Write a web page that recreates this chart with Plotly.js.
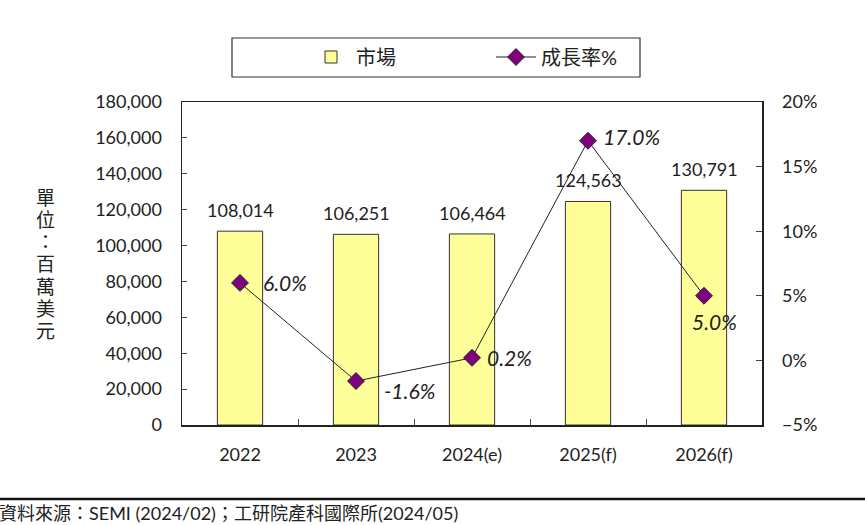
<!DOCTYPE html>
<html><head><meta charset="utf-8">
<script src="https://cdn.plot.ly/plotly-3.0.1.min.js"></script>
<style>html,body{margin:0;padding:0;background:#fff;}#chart{width:865px;height:525px;}</style>
</head><body><div id="chart"></div>
<script>
const categories = ["2022","2023","2024(e)","2025(f)","2026(f)"];
const marketValues = [108014, 106251, 106464, 124563, 130791];
const growthRates = [6.0, -1.6, 0.2, 17.0, 5.0];
const growthLabels = ["6.0%","-1.6%","0.2%","17.0%","5.0%"];
const marketLabels = ["108,014","106,251","106,464","124,563","130,791"];
const yTitleChars = ["單","位","：","百","萬","美","元"];
const sourceText = "資料來源：SEMI (2024/02)；工研院產科國際所(2024/05)";

// label placement (style only)
const growthLabelShift = [[21,0,'left'],[26,-9,'left'],[13,0,'left'],[13,4,'left'],[-14,-26,'left']];

const FONT = "Lato, 'Noto Sans CJK TC', sans-serif";
const TXT = "#222";

const W = 865, H = 525, L = 182, R = 762, T = 102, B = 425;
const px = x => (x - L) / (R - L);
const py = y => (B - y) / (B - T);

const traces = [
  {type:'bar', name:'市場', x:categories, y:marketValues,
   marker:{color:'#FFFF99', line:{color:'#333', width:1}}, hoverinfo:'skip'},
  {type:'scatter', mode:'lines+markers', name:'成長率%', x:categories, y:growthRates, yaxis:'y2',
   cliponaxis:false,
   line:{color:'#222', width:1},
   marker:{symbol:'diamond', size:13, color:'#800080', line:{color:'#222', width:1}}, hoverinfo:'skip'}
];

const annotations = yTitleChars.map((c,i)=>({
  text:c, xref:'paper', yref:'paper', x:px(45), y:py(197 + i*22.3),
  showarrow:false, xanchor:'center', yanchor:'middle',
  font:{family:FONT, size:19, color:TXT}
}));
marketLabels.forEach((t,i)=>annotations.push({
  text:t, xref:'x', yref:'y', x:i, y:marketValues[i],
  showarrow:false, xanchor:'center', yanchor:'middle', yshift:21,
  font:{family:FONT, size:18, color:TXT}
}));
growthLabels.forEach((t,i)=>annotations.push({
  text:'<i>'+t+'</i>', xref:'x', yref:'y2', x:i, y:growthRates[i],
  showarrow:false, xanchor:growthLabelShift[i][2], yanchor:'middle',
  xshift:growthLabelShift[i][0], yshift:growthLabelShift[i][1],
  font:{family:FONT, size:21, color:TXT}
}));
annotations.push({text:sourceText, xref:'paper', yref:'paper', x:px(-3), y:py(500),
  showarrow:false, xanchor:'left', yanchor:'top', font:{family:FONT, size:18, color:TXT}});

const layout = {
  width:W, height:H, margin:{l:L, r:W-R, t:T, b:H-B},
  paper_bgcolor:'#fff', plot_bgcolor:'#fff',
  font:{family:FONT, size:18, color:TXT},
  bargap:0.61,
  showlegend:true,
  legend:{orientation:'h', x:px(306), xanchor:'left', y:py(57), yanchor:'middle',
    bgcolor:'rgba(0,0,0,0)', font:{family:FONT, size:20, color:TXT}, entrywidth:130, itemwidth:40},
  xaxis:{type:'category', range:[-0.5,4.5], showline:true, linecolor:'#222', linewidth:1.5, mirror:true,
    ticks:'inside', tickson:'boundaries', ticklen:6, tickcolor:'#444', showgrid:false,
    tickfont:{family:FONT, size:18, color:TXT}, ticklabelstandoff:13},
  yaxis:{range:[0,180000], dtick:20000, tickformat:',', showline:true, linecolor:'#222', linewidth:1.5,
    mirror:true, ticks:'inside', ticklen:5, tickcolor:'#444', showgrid:false, zeroline:false,
    tickfont:{family:FONT, size:18, color:TXT}, ticklabelstandoff:15},
  yaxis2:{range:[-5,20], dtick:5, ticksuffix:'%', overlaying:'y', side:'right', showline:false,
    ticks:'inside', ticklen:6, tickcolor:'#444', showgrid:false, zeroline:false,
    tickfont:{family:FONT, size:18, color:TXT}, ticklabelstandoff:19},
  shapes:[
    {type:'rect', xref:'paper', yref:'paper', x0:px(232), x1:px(640), y0:py(77), y1:py(38),
     line:{color:'#333', width:1.2}, fillcolor:'rgba(0,0,0,0)'},
    {type:'line', xref:'paper', yref:'paper', x0:px(-5), x1:px(870), y0:py(499), y1:py(499),
     line:{color:'#111', width:2.5}}
  ],
  annotations:annotations
};
Plotly.newPlot('chart', traces, layout, {staticPlot:true, displayModeBar:false});
</script></body></html>
